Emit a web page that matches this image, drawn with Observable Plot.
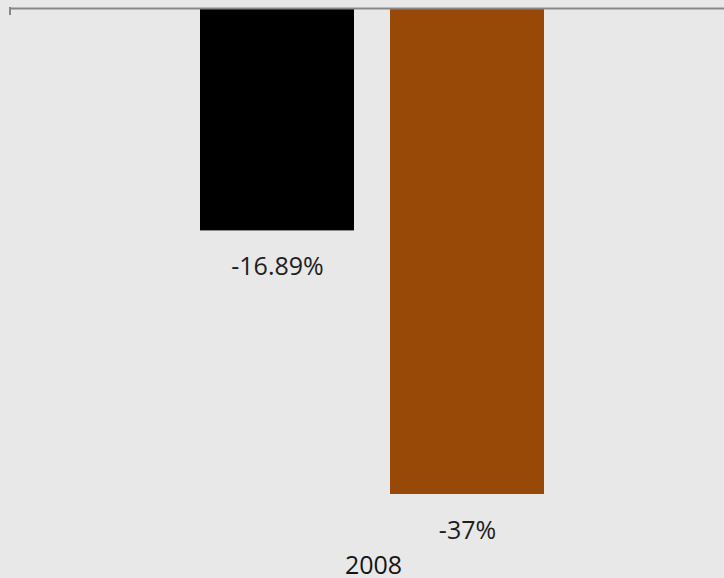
<!DOCTYPE html>
<html>
<head>
<meta charset="utf-8">
<script src="https://cdn.jsdelivr.net/npm/d3@7"></script>
<script src="https://cdn.jsdelivr.net/npm/@observablehq/plot@0.6"></script>
<style>
  html, body { margin: 0; padding: 0; background: #e8e8e8; overflow: hidden; }
  #chart svg { display: block; }
</style>
</head>
<body>
<div id="chart"></div>
<script>
const years = ["2008"];
const series = ["A", "B"];
const values = [-16.89, -37];
const labels = ["-16.89%", "-37%"];
const colors = ["#000000", "#984807"];

const data = series.map((s, i) => ({series: s, value: values[i], label: labels[i], year: years[0]}));

const W = 724, H = 578;
const marginLeft = 9, marginTop = 9, marginBottom = 84, marginRight = -13;

const chart = Plot.plot({
  width: W,
  height: H,
  marginLeft, marginTop, marginBottom, marginRight,
  style: {background: "#e8e8e8", fontFamily: "'Open Sans', sans-serif", overflow: "hidden"},
  x: {domain: series, range: [200, 544], paddingInner: 0.1895, paddingOuter: 0, axis: null},
  y: {domain: [-37, 0], axis: null},
  color: {domain: series, range: colors},
  marks: [
    Plot.barY(data, {x: "series", y: "value", fill: "series"}),
    Plot.ruleY([0], {stroke: "#878787", strokeWidth: 2, dy: -1}),
    Plot.text(data, {x: "series", y: "value", text: "label", lineAnchor: "bottom", dy: 44.5, fontSize: 25, fill: "#1e1e1e"}),
    Plot.text(years, {text: d => d, frameAnchor: "bottom", lineAnchor: "bottom", dy: 79.5, fontSize: 25, fill: "#141414"})
  ]
});

// small category-boundary tick at the left end of the axis
d3.select(chart).append("line")
  .attr("x1", marginLeft + 1).attr("x2", marginLeft + 1)
  .attr("y1", marginTop - 2).attr("y2", marginTop + 6)
  .attr("stroke", "#878787").attr("stroke-width", 2);

document.getElementById("chart").appendChild(chart);
</script>
</body>
</html>
